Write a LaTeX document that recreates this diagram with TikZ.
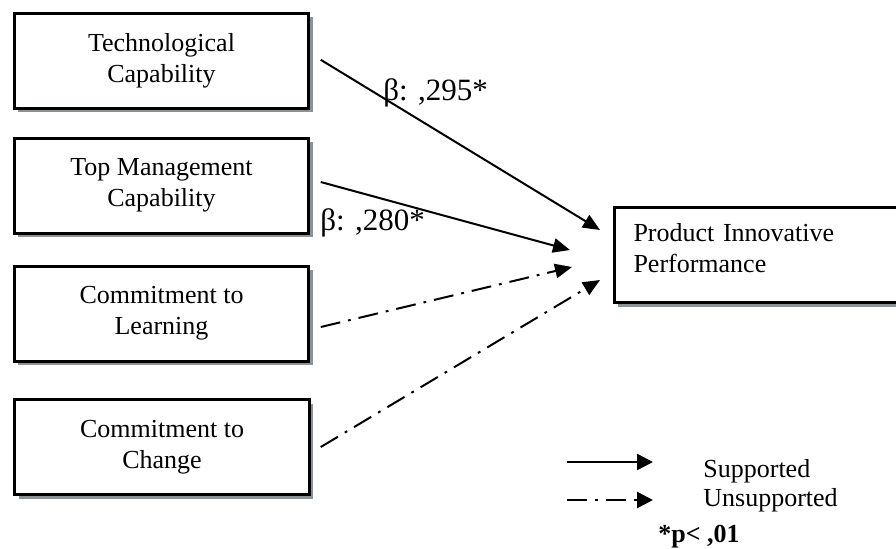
\documentclass[tikz,border=0pt]{standalone}
\usepackage{fontspec}
\setmainfont{Liberation Serif}
\usetikzlibrary{arrows.meta,shadows}
\definecolor{shadowgray}{RGB}{139,147,153}
\begin{document}
\begin{tikzpicture}[x=0.5pt,y=-0.5pt,
  factor/.style={draw, line width=1.5pt, fill=white,
    minimum width=147.25pt, minimum height=47.5pt, inner sep=0pt,
    align=center, font=\fontsize{13}{15.5}\selectfont,
    drop shadow={shadow xshift=2pt, shadow yshift=-2pt, fill=shadowgray, opacity=1}},
  outcome/.style={factor, align=left, text width=148pt, inner xsep=9.75pt,
    anchor=west},
  tipstyle/.style={-{Triangle[length=8.5pt,width=7.2pt]}},
  sup/.style={tipstyle, line width=1pt},
  unsup/.style={tipstyle, line width=1pt,
    dash pattern=on 10pt off 4pt on 1.4pt off 4pt},
  keytip/.style={-{Triangle[length=8pt,width=8pt]}},
  coef/.style={anchor=base west, inner sep=0pt, font=\fontsize{15.5}{18}\selectfont},
  legend/.style={anchor=base west, inner sep=0pt, font=\fontsize{13}{15.5}\selectfont}]
\useasboundingbox (0,0) rectangle (896,548);
\clip (0,0) rectangle (896,548);

% predictor boxes
\node[factor] (tc) at (161.5,60.8) {Technological\\Capability};
\node[factor] (tm) at (161.5,185.5) {Top Management\\Capability};
\node[factor] (cl) at (161.5,313.5) {Commitment to\\Learning};
\node[factor] (cc) at (162,447) {Commitment to\\Change};

% outcome box
\node[outcome] (pip) at (612.5,255)
  {Product Innovative\\Performance\rule[-7pt]{0pt}{7pt}};

% paths
\draw[sup] ([shift={(10.5,-1)}]tc.east) -- ([shift={(-12.5,-25)}]pip.west);
\draw[sup] ([shift={(10.5,-3.5)}]tm.east) -- ([shift={(-42.5,-5)}]pip.west);
\draw[unsup] ([shift={(10.5,13.5)}]cl.east) -- ([shift={(-40.5,12)}]pip.west);
\draw[unsup] ([shift={(10,0)}]cc.east) -- ([shift={(-12.5,25)}]pip.west);

% coefficients
\node[coef] (b1) at (383,100) {β: ,295*};
\node[coef] (b2) at (320,230) {β: ,280*};

% legend
\coordinate (l1s) at (567,462);
\coordinate (l1e) at (653,462);
\coordinate (l2s) at (567,500);
\coordinate (l2e) at (653,500);
\draw[sup, keytip, line width=1.3pt] (l1s) -- (l1e);
\draw[unsup, keytip, line width=1.3pt] (l2s) -- (l2e);
\node[legend] (ls) at (703,477) {Supported};
\node[legend] (lu) at (703,506) {Unsupported};
\node[legend, font=\fontsize{13}{15.5}\selectfont\bfseries] (lp) at (658,542) {*p< ,01};
\end{tikzpicture}
\end{document}
